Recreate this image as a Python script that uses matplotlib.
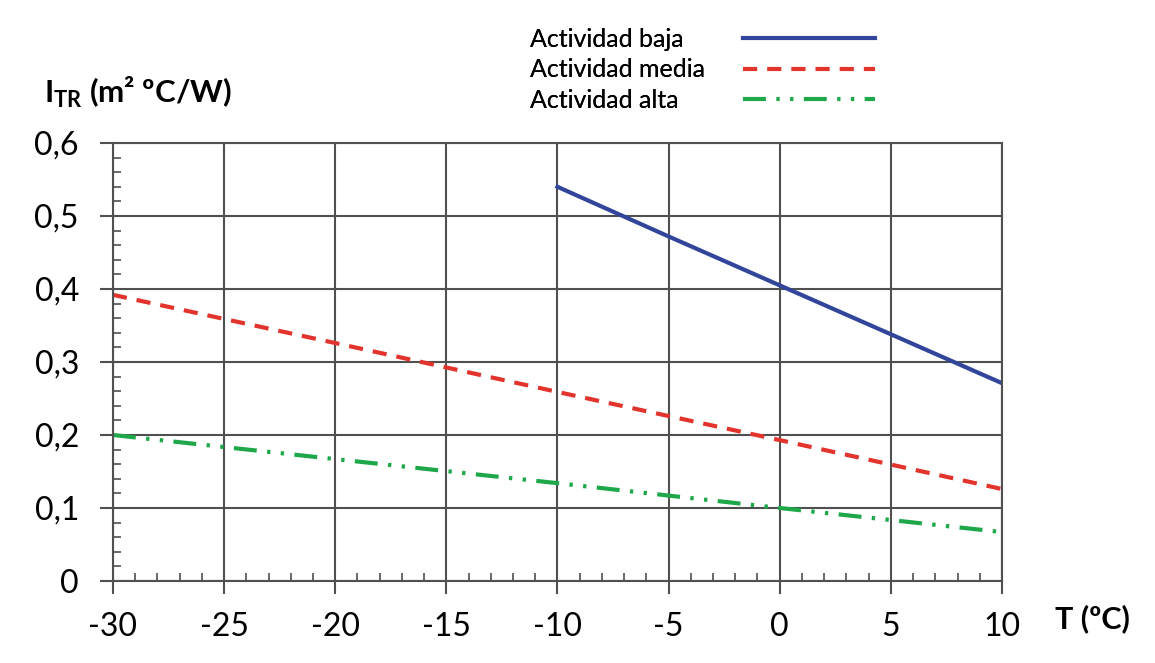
import numpy as np
import matplotlib.pyplot as plt
from matplotlib.ticker import FuncFormatter, MultipleLocator

# Data
t_baja = [-10, -5, 0, 5, 10]
i_baja = [0.540, 0.472, 0.405, 0.338, 0.271]
t_media = [-30, -20, -10, 0, 10]
i_media = [0.392, 0.326, 0.259, 0.193, 0.126]
t_alta = [-30, -20, -10, 0, 10]
i_alta = [0.200, 0.167, 0.134, 0.100, 0.067]

labels = ["Actividad baja", "Actividad media", "Actividad alta"]
colors = ["#31469a", "#e2342c", "#1fa84a"]

plt.rcParams['font.family'] = ['Lato', 'DejaVu Sans']
plt.rcParams['mathtext.fontset'] = 'custom'
plt.rcParams['mathtext.rm'] = 'Lato'
plt.rcParams['mathtext.bf'] = 'Lato:bold'

fig = plt.figure(figsize=(11.55, 6.63), dpi=100)
ax = fig.add_axes([0.0978, 0.1237, 0.8675 - 0.0978, 0.7843 - 0.1237])

l1, = ax.plot(t_baja, i_baja, color=colors[0], lw=3)
l2, = ax.plot(t_media, i_media, color=colors[1], lw=3, dashes=(3.4, 2.4))
l3, = ax.plot(t_alta, i_alta, color=colors[2], lw=3, dashes=(5.5, 2.5, 0.8, 2.5, 0.8, 2.5))
handles = [l1, l2, l3]

ax.set_xlim(-30, 10)
ax.set_ylim(0, 0.6)
ax.xaxis.set_major_locator(MultipleLocator(5))
ax.xaxis.set_minor_locator(MultipleLocator(1))
ax.yaxis.set_major_locator(MultipleLocator(0.1))
ax.yaxis.set_minor_locator(MultipleLocator(0.02))
ax.yaxis.set_major_formatter(FuncFormatter(lambda v, p: "0" if abs(v) < 1e-9 else ("%.1f" % v).replace(".", ",")))
ax.xaxis.set_major_formatter(FuncFormatter(lambda v, p: "%d" % v))

gc = "#505050"
ax.grid(True, which='major', color=gc, lw=1.5)
for s in ax.spines.values():
    s.set_color(gc)
    s.set_linewidth(1.5)
ax.tick_params(which='major', direction='out', length=9.5, width=1.5, color=gc, labelsize=23)
ax.tick_params(which='minor', direction='in', length=5.5, width=1.2, color=gc)
ax.tick_params(axis='x', which='major', pad=13)
ax.tick_params(axis='y', which='major', pad=15)

fig.text(0.038, 0.845, r"$\mathbf{I}_{\mathbf{TR}}$ (m² ºC/W)", fontsize=22.5, fontweight='bold')
fig.text(0.913, 0.053, "T (ºC)", fontsize=22, fontweight='bold')

# legend: text column (left aligned) and line samples as two legends
leg_txt = fig.legend(handles, labels, loc='upper left', bbox_to_anchor=(0.459, 0.958),
                     frameon=False, handlelength=0, handletextpad=0, borderpad=0,
                     borderaxespad=0, labelspacing=0.3, fontsize=18)
for h in leg_txt.legend_handles:
    h.set_visible(False)
fig.add_artist(leg_txt)
fig.legend(handles, [" "] * 3, loc='upper left', bbox_to_anchor=(0.643, 0.958),
           frameon=False, handlelength=5.3, handletextpad=0, borderpad=0,
           borderaxespad=0, labelspacing=0.3, fontsize=18)

fig.savefig("out.png", dpi=100)
